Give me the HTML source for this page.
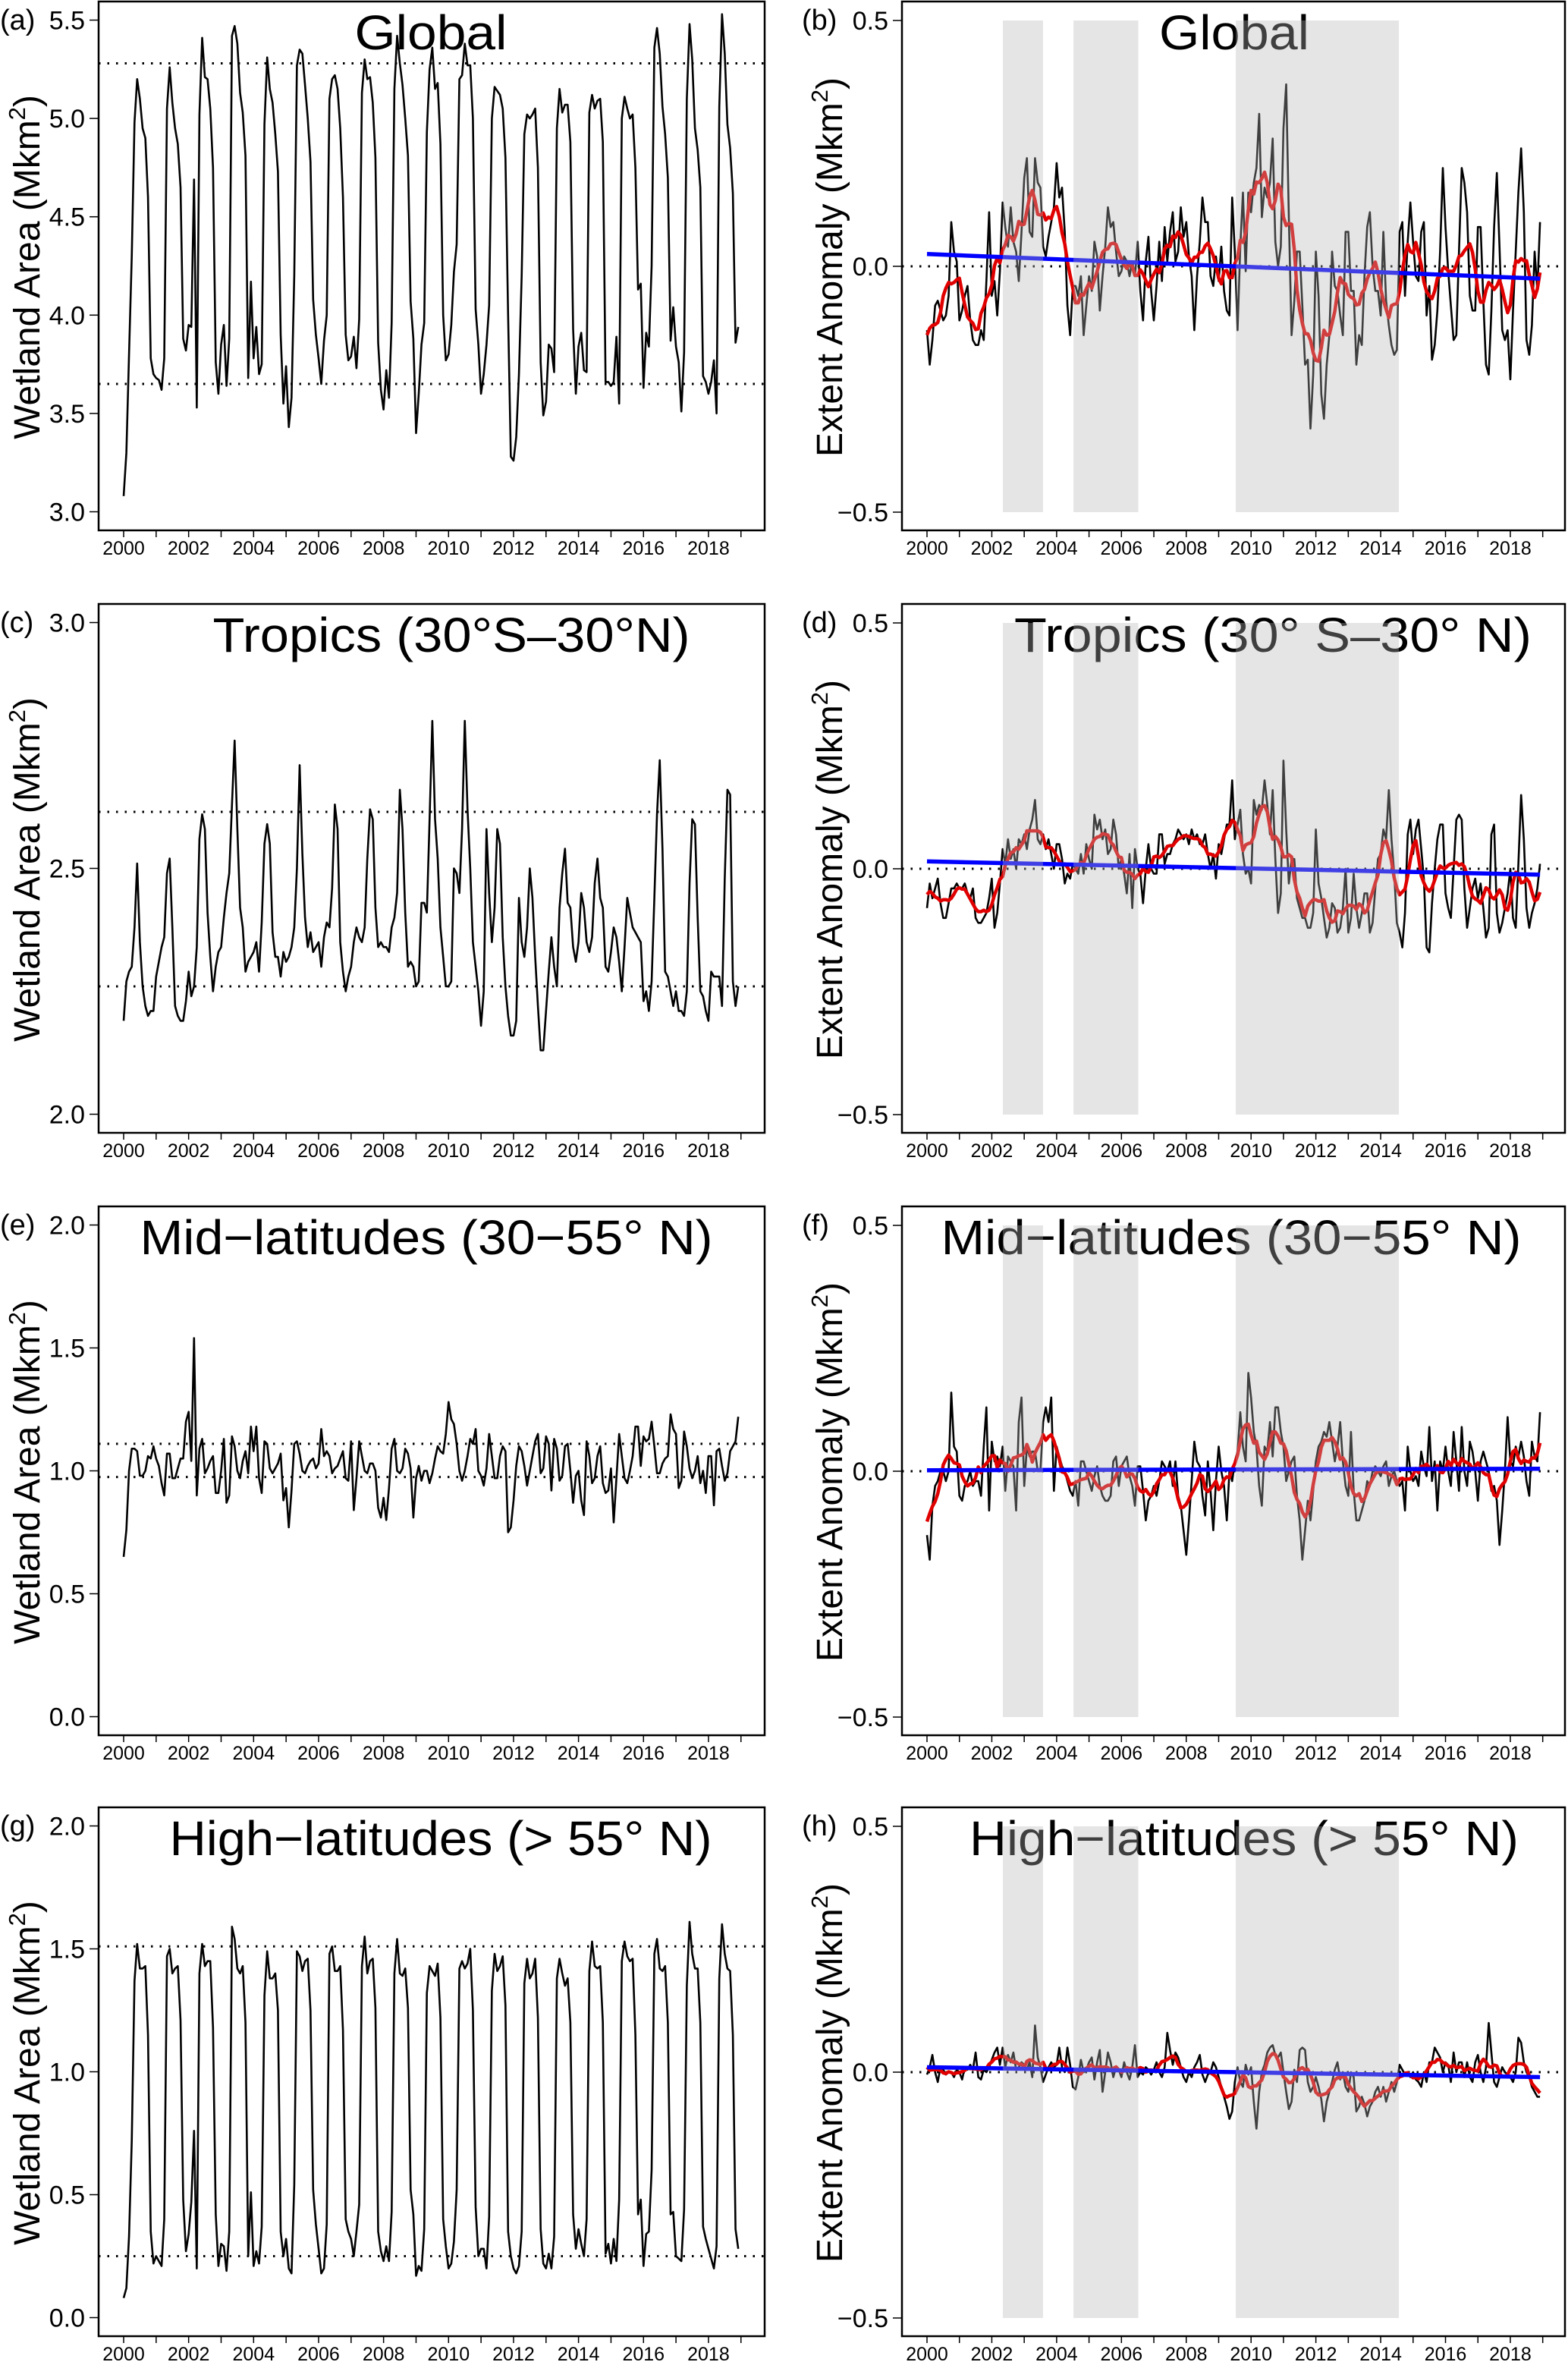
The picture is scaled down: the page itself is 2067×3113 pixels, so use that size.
<!DOCTYPE html>
<html>
<head>
<meta charset="utf-8">
<style>
html,body{margin:0;padding:0;background:#fff;}
svg{display:block;}
text{font-family:"Liberation Sans",Arial,sans-serif;fill:#000;}
</style>
</head>
<body>
<svg id="fig" width="2067" height="3113" viewBox="0 0 2067 3113" xmlns="http://www.w3.org/2000/svg"></svg>
<script>
// ---------- DATA (monthly, Jan 2000 .. Dec 2018) ----------
const startYear = 2000;
const yearTicks = [2000,2001,2002,2003,2004,2005,2006,2007,2008,2009,2010,2011,2012,2013,2014,2015,2016,2017,2018,2019];
const yearLabels = ["2000","2002","2004","2006","2008","2010","2012","2014","2016","2018"];
const shadedPeriods = [[2002.34,2003.58],[2004.52,2006.52],[2009.53,2014.56]];

const globalArea = [
3.08,3.30,3.80,4.30,4.98,5.20,5.10,4.95,4.90,4.60,3.78,3.70,
3.68,3.67,3.62,3.78,5.05,5.26,5.08,4.95,4.87,4.65,3.88,3.82,
3.95,3.94,4.69,3.53,5.02,5.41,5.21,5.20,5.05,4.75,3.76,3.60,
3.85,3.95,3.64,3.88,5.42,5.47,5.38,5.13,5.03,4.81,3.68,4.17,
3.78,3.94,3.70,3.75,4.97,5.31,5.15,5.08,4.92,4.73,3.90,3.55,
3.74,3.43,3.58,4.20,5.27,5.35,5.33,5.17,5.00,4.78,4.08,3.90,
3.78,3.65,3.87,4.00,5.10,5.20,5.22,5.15,4.95,4.60,3.90,3.77,
3.79,3.89,3.73,3.98,5.13,5.30,5.20,5.21,5.08,4.80,3.86,3.62,
3.52,3.72,3.58,3.96,5.15,5.42,5.28,5.17,5.00,4.81,4.07,3.88,
3.40,3.60,3.85,3.96,4.93,5.25,5.36,5.15,5.18,4.87,4.00,3.77,
3.80,3.95,4.22,4.36,5.20,5.22,5.38,5.27,5.27,5.00,4.03,3.85,
3.60,3.70,3.85,4.05,5.00,5.16,5.14,5.12,5.05,4.80,4.00,3.28,
3.26,3.38,3.70,4.20,4.92,5.02,5.00,5.02,5.05,4.75,3.76,3.49,
3.56,3.85,3.83,3.71,4.95,5.15,5.03,5.07,5.07,4.88,3.93,3.60,
3.84,3.91,3.72,3.71,5.03,5.12,5.05,5.09,5.10,4.88,3.66,3.66,
3.64,3.66,3.89,3.55,5.00,5.11,5.05,5.00,5.02,4.75,4.13,4.16,
3.63,3.91,3.84,4.25,5.36,5.46,5.33,5.06,4.92,4.70,3.87,4.04,
3.84,3.76,3.51,3.81,5.10,5.48,5.30,4.95,4.84,4.65,3.69,3.66,
3.60,3.66,3.77,3.50,5.06,5.53,5.33,4.97,4.85,4.62,3.86,3.94];
const globalRefLines = [5.28,3.65];

const tropicsArea = [
2.19,2.27,2.29,2.30,2.38,2.51,2.35,2.26,2.22,2.20,2.21,2.21,
2.28,2.31,2.34,2.36,2.49,2.52,2.38,2.22,2.20,2.19,2.19,2.23,
2.29,2.24,2.26,2.34,2.56,2.61,2.58,2.41,2.32,2.25,2.30,2.33,
2.34,2.40,2.45,2.49,2.63,2.76,2.58,2.42,2.38,2.29,2.31,2.32,
2.33,2.35,2.29,2.39,2.55,2.59,2.55,2.37,2.32,2.32,2.28,2.33,
2.31,2.32,2.34,2.38,2.50,2.71,2.53,2.40,2.34,2.37,2.33,2.34,
2.35,2.30,2.36,2.39,2.38,2.46,2.63,2.58,2.35,2.29,2.25,2.28,
2.30,2.35,2.38,2.36,2.35,2.38,2.52,2.62,2.60,2.42,2.34,2.35,
2.34,2.34,2.33,2.38,2.40,2.45,2.66,2.58,2.41,2.30,2.31,2.30,
2.26,2.27,2.43,2.43,2.41,2.60,2.80,2.60,2.52,2.38,2.32,2.26,
2.26,2.27,2.50,2.49,2.45,2.58,2.80,2.62,2.50,2.35,2.30,2.25,
2.18,2.25,2.58,2.45,2.35,2.42,2.58,2.55,2.36,2.26,2.20,2.16,
2.16,2.19,2.44,2.35,2.32,2.38,2.50,2.44,2.32,2.22,2.13,2.13,
2.21,2.29,2.36,2.30,2.26,2.42,2.49,2.54,2.43,2.42,2.34,2.31,
2.35,2.45,2.42,2.35,2.33,2.36,2.47,2.52,2.44,2.42,2.30,2.29,
2.33,2.38,2.36,2.31,2.25,2.34,2.44,2.41,2.38,2.37,2.36,2.35,
2.23,2.25,2.21,2.27,2.44,2.61,2.72,2.54,2.29,2.28,2.25,2.22,
2.25,2.21,2.21,2.20,2.25,2.47,2.60,2.59,2.40,2.25,2.24,2.21,
2.19,2.29,2.28,2.28,2.28,2.22,2.48,2.66,2.65,2.27,2.22,2.26];
const tropicsRefLines = [2.615,2.26];

const midArea = [
0.65,0.76,1.00,1.09,1.09,1.08,0.98,0.98,1.00,1.06,1.05,1.10,
1.05,1.02,0.95,0.90,1.07,1.07,0.97,0.97,1.01,1.05,1.05,1.20,
1.24,1.04,1.54,0.90,1.09,1.13,0.99,1.01,1.04,1.06,0.91,0.91,
1.00,1.13,0.87,0.90,1.14,1.10,1.00,0.97,1.04,1.08,0.99,1.18,
1.08,1.18,0.97,0.91,1.12,1.11,1.01,0.99,1.01,1.03,1.07,0.88,
0.93,0.77,0.92,1.11,1.12,1.07,1.00,0.99,1.02,1.04,1.05,1.01,
1.03,1.17,1.06,1.08,1.06,0.99,1.01,1.02,1.05,1.08,0.97,0.96,
1.12,0.84,0.97,1.12,1.06,1.00,0.99,1.03,1.03,1.00,0.85,0.81,
0.89,0.80,0.93,1.09,1.13,1.00,0.99,1.01,1.09,1.07,1.01,0.81,
0.97,1.02,0.96,1.00,1.00,0.95,0.99,1.05,1.10,1.08,1.07,1.15,
1.28,1.21,1.19,1.11,1.00,0.96,1.00,1.06,1.13,1.11,1.17,1.00,
0.98,0.94,1.01,1.15,1.06,0.97,0.97,1.06,1.10,1.08,0.75,0.77,
0.88,1.02,1.10,1.08,1.02,0.94,1.00,1.06,1.12,1.15,0.99,1.01,
1.14,1.11,0.92,1.13,1.09,0.96,0.98,1.10,1.11,1.00,0.87,0.98,
1.00,0.88,0.82,1.12,1.06,0.95,0.97,1.06,1.10,0.95,0.91,0.92,
1.01,0.79,0.97,1.15,1.06,0.97,0.95,1.00,1.06,1.18,1.18,1.02,
1.14,1.12,1.13,1.20,1.10,0.99,0.99,1.03,1.05,1.06,1.23,1.17,
1.15,0.93,0.96,1.16,1.10,1.01,0.97,1.00,1.06,0.95,1.00,0.91,
1.06,1.06,0.86,1.08,1.09,1.02,0.96,0.99,1.08,1.10,1.12,1.22];
const midRefLines = [1.11,0.975];

const highArea = [
0.08,0.12,0.33,0.72,1.37,1.52,1.42,1.42,1.43,1.15,0.35,0.22,
0.25,0.23,0.21,0.40,1.47,1.50,1.40,1.42,1.43,1.21,0.48,0.27,
0.34,0.47,0.76,0.20,1.40,1.52,1.43,1.45,1.45,1.18,0.42,0.21,
0.30,0.29,0.19,0.35,1.59,1.54,1.42,1.40,1.43,1.20,0.25,0.51,
0.21,0.27,0.22,0.37,1.31,1.49,1.38,1.38,1.40,1.25,0.35,0.25,
0.32,0.20,0.18,0.54,1.49,1.47,1.41,1.45,1.46,1.25,0.52,0.38,
0.28,0.18,0.20,0.38,1.48,1.51,1.41,1.41,1.43,1.17,0.40,0.35,
0.32,0.25,0.35,0.46,1.43,1.55,1.40,1.45,1.46,1.26,0.35,0.27,
0.23,0.29,0.23,0.43,1.40,1.54,1.40,1.39,1.42,1.26,0.52,0.42,
0.17,0.21,0.19,0.36,1.32,1.43,1.41,1.39,1.44,1.22,0.40,0.29,
0.20,0.22,0.31,0.52,1.42,1.45,1.42,1.44,1.50,1.25,0.45,0.25,
0.28,0.28,0.20,0.41,1.33,1.48,1.41,1.43,1.47,1.27,0.35,0.25,
0.20,0.18,0.21,0.35,1.36,1.46,1.38,1.40,1.46,1.22,0.36,0.22,
0.20,0.26,0.20,0.33,1.38,1.46,1.40,1.35,1.38,1.20,0.42,0.28,
0.36,0.30,0.25,0.40,1.41,1.53,1.43,1.42,1.43,1.20,0.26,0.30,
0.22,0.32,0.23,0.48,1.45,1.53,1.47,1.45,1.46,1.15,0.42,0.48,
0.21,0.34,0.35,0.60,1.48,1.54,1.42,1.41,1.43,1.20,0.42,0.43,
0.25,0.24,0.23,0.44,1.35,1.61,1.48,1.42,1.42,1.20,0.37,0.32,
0.28,0.24,0.20,0.29,1.38,1.60,1.48,1.42,1.41,1.15,0.36,0.28];
const highRefLines = [1.51,0.25];

const globalAnom = [
-0.13,-0.20,-0.15,-0.08,-0.07,-0.09,-0.11,-0.10,-0.06,0.09,0.03,0.01,
-0.11,-0.09,-0.06,-0.04,-0.11,-0.15,-0.16,-0.16,-0.13,-0.15,-0.03,0.11,
-0.06,-0.03,-0.10,-0.01,0.13,0.08,0.04,0.12,0.05,0.03,-0.03,0.07,
0.18,0.22,0.07,0.06,0.22,0.17,0.16,0.04,0.02,0.06,0.09,0.12,
0.21,0.14,0.16,0.07,-0.08,-0.14,-0.04,-0.04,-0.06,-0.02,-0.14,-0.08,
-0.02,-0.05,0.05,0.02,-0.09,-0.02,0.04,0.12,0.08,0.09,0.03,-0.02,
-0.01,0.02,0.01,-0.02,0.01,-0.02,0.05,-0.05,-0.11,0.01,0.06,-0.05,
-0.11,-0.04,0.05,-0.03,0.08,0.01,0.07,0.11,0.01,0.03,0.12,0.06,
0.09,0.02,-0.02,-0.13,-0.02,0.05,0.14,0.09,0.09,-0.02,-0.04,0.02,
-0.03,0.04,-0.05,-0.09,-0.10,0.14,0.03,-0.13,0.04,0.15,-0.01,0.15,
0.11,0.17,0.20,0.31,0.10,0.16,0.14,0.17,0.26,0.05,0.00,0.04,
0.28,0.37,0.10,-0.14,-0.07,0.03,0.03,-0.08,-0.20,-0.19,-0.33,-0.22,
0.03,-0.06,-0.26,-0.31,-0.20,-0.14,0.03,-0.04,-0.05,-0.10,-0.14,0.07,
0.07,-0.05,-0.05,-0.20,-0.14,-0.16,-0.02,0.08,0.11,0.00,-0.05,-0.05,
-0.10,0.07,-0.07,-0.12,-0.16,-0.18,-0.17,0.07,0.09,-0.06,0.05,0.13,
0.05,-0.02,-0.03,0.07,0.09,-0.10,-0.04,-0.19,-0.16,-0.09,0.03,0.20,
0.08,-0.01,-0.08,-0.15,-0.14,0.03,0.20,0.17,0.11,-0.06,-0.09,-0.09,
0.08,0.08,-0.07,-0.20,-0.22,-0.09,0.08,0.19,0.04,-0.13,-0.15,-0.13,
-0.23,-0.09,0.03,0.15,0.24,0.11,-0.15,-0.18,-0.12,0.03,-0.05,0.09];
const globalTrend = [0.025,-0.025];

const tropicsAnom = [
-0.08,-0.03,-0.06,-0.04,-0.02,-0.07,-0.10,-0.10,-0.07,-0.04,-0.04,-0.03,
-0.04,-0.04,-0.03,-0.05,-0.06,-0.04,-0.10,-0.11,-0.11,-0.10,-0.09,-0.06,
-0.02,-0.12,-0.09,-0.03,0.04,0.01,0.06,0.02,0.04,0.00,0.06,0.05,
0.07,0.04,0.08,0.10,0.14,0.06,0.05,0.07,0.04,0.06,0.03,0.00,
0.05,0.05,0.02,-0.03,-0.01,-0.02,0.01,0.00,-0.01,0.03,-0.01,0.05,
0.02,0.00,0.11,0.08,0.10,0.06,0.08,0.03,0.04,0.10,0.07,0.00,
0.02,-0.01,-0.05,0.03,-0.08,0.04,0.00,-0.01,-0.07,0.00,0.05,0.00,
-0.01,-0.01,0.07,0.07,0.01,0.03,0.03,0.05,0.06,0.08,0.07,0.06,
0.07,0.05,0.08,0.06,0.07,0.05,0.05,0.07,0.03,0.00,0.03,-0.02,
0.05,0.03,0.06,0.09,0.09,0.18,0.06,0.09,0.12,0.03,-0.01,0.00,
-0.03,0.14,0.11,0.13,0.12,0.18,0.13,0.07,0.16,0.02,-0.09,-0.05,
0.22,0.08,-0.03,0.02,0.02,-0.06,-0.08,-0.10,-0.10,-0.12,-0.12,-0.09,
0.08,-0.03,-0.06,-0.10,-0.14,-0.12,-0.07,-0.08,-0.13,-0.12,-0.08,0.00,
-0.13,-0.10,-0.01,-0.08,-0.12,-0.09,-0.05,-0.05,-0.13,-0.11,-0.04,0.02,
0.03,0.08,0.06,0.16,0.06,-0.01,-0.11,-0.13,-0.16,-0.09,0.07,0.10,
0.03,0.08,0.10,0.04,-0.02,-0.16,-0.17,-0.07,0.00,0.06,0.09,0.09,
-0.05,-0.08,-0.10,0.00,0.10,0.11,0.10,-0.04,-0.12,-0.08,-0.04,-0.02,
-0.06,-0.03,-0.08,-0.14,-0.12,0.07,0.09,-0.09,-0.13,-0.11,-0.08,-0.05,
0.00,-0.10,-0.12,0.01,0.15,0.06,-0.08,-0.12,-0.09,-0.07,-0.04,0.01];
const tropicsTrend = [0.015,-0.012];

const midAnom = [
-0.13,-0.18,-0.07,-0.03,-0.02,0.00,0.00,-0.02,0.00,0.16,0.05,0.04,
-0.05,-0.06,-0.03,-0.02,0.00,-0.03,-0.02,-0.02,-0.05,0.05,0.13,-0.08,
0.06,0.02,0.03,0.01,0.05,-0.04,0.03,0.02,0.01,-0.08,0.10,0.15,
-0.03,0.05,0.03,0.04,0.04,0.00,0.00,0.10,0.13,0.10,0.15,-0.04,
0.05,0.03,0.01,0.00,-0.02,-0.04,-0.05,-0.02,-0.07,0.02,0.02,0.00,
-0.02,-0.04,-0.01,0.01,-0.03,-0.05,-0.06,-0.06,-0.05,0.02,0.03,-0.03,
0.01,0.02,0.03,-0.01,-0.03,-0.07,0.01,0.01,-0.04,-0.10,-0.06,-0.05,
-0.03,-0.05,-0.02,0.02,0.01,0.00,0.02,-0.03,0.02,-0.05,-0.07,-0.12,
-0.17,-0.10,-0.02,0.06,0.02,0.01,-0.05,-0.09,0.02,-0.04,-0.12,-0.02,
0.05,0.00,-0.03,-0.10,0.00,-0.02,0.02,0.04,0.12,0.05,0.02,0.20,
0.15,0.08,0.05,-0.03,-0.07,0.05,0.04,0.10,0.03,0.13,0.13,0.08,
0.05,-0.02,0.00,0.02,0.03,-0.05,-0.10,-0.18,-0.12,-0.06,-0.10,-0.04,
0.02,0.05,0.06,0.08,0.07,0.10,0.06,0.02,0.05,0.10,0.02,-0.03,
-0.05,0.08,-0.04,-0.10,-0.10,-0.08,-0.06,-0.02,-0.03,0.00,0.01,0.00,
-0.01,0.01,0.02,-0.03,-0.01,0.00,-0.02,-0.03,-0.02,-0.08,0.05,0.00,
-0.02,-0.01,-0.03,0.04,0.01,-0.01,0.09,-0.02,0.02,-0.08,0.02,0.00,
0.05,0.00,-0.03,0.08,0.02,-0.04,0.09,0.00,-0.03,0.06,0.04,0.00,
-0.06,0.02,0.04,0.02,0.00,-0.04,-0.03,-0.06,-0.15,-0.08,0.00,0.11,
0.02,0.01,0.05,0.03,0.06,0.03,-0.02,-0.05,0.06,0.03,0.02,0.12];
const midTrend = [0.002,0.005];

const highAnom = [
-0.005,0.01,0.035,0.0,-0.02,0.01,0.005,-0.005,0.0,0.0,-0.01,0.005,
0.0,-0.015,0.01,0.005,0.015,0.005,0.04,-0.01,-0.015,0.005,0.0,0.01,
0.025,0.04,0.05,0.015,0.05,0.01,0.035,0.02,0.04,0.005,0.01,0.02,
0.015,0.005,0.02,-0.01,0.095,0.03,0.01,-0.02,-0.005,0.01,0.02,0.01,
0.015,0.05,0.01,0.0,0.05,0.015,-0.03,-0.035,-0.01,0.025,0.0,0.005,
0.02,0.03,-0.015,0.02,0.045,-0.04,0.0,0.04,0.02,-0.01,0.01,0.005,
-0.01,0.02,0.0,-0.015,0.01,0.055,-0.01,0.0,-0.005,0.01,0.005,-0.005,
0.005,0.02,0.0,-0.01,0.01,0.08,0.045,0.015,0.04,0.03,0.01,-0.01,
-0.02,0.0,-0.01,0.01,0.02,0.035,-0.005,-0.02,-0.005,0.0,0.02,0.01,
-0.01,-0.03,-0.05,-0.07,-0.095,-0.08,-0.02,0.01,-0.02,-0.03,0.015,-0.005,
0.01,-0.06,-0.115,-0.04,0.0,0.015,0.04,0.05,0.055,0.035,0.03,0.04,
0.0,-0.04,-0.075,-0.06,0.005,-0.02,0.045,0.05,0.045,-0.02,-0.04,-0.03,
-0.01,-0.03,-0.055,-0.1,-0.06,-0.04,-0.02,0.005,0.02,-0.015,0.0,-0.03,
-0.04,0.0,-0.01,-0.08,-0.07,-0.05,-0.065,-0.09,-0.07,-0.06,-0.04,-0.03,
-0.05,-0.03,-0.06,-0.04,-0.02,-0.04,-0.02,0.015,0.005,-0.005,0.0,-0.01,
0.0,-0.015,-0.02,-0.03,0.0,-0.02,0.02,0.02,0.05,0.04,0.03,0.0,
0.02,0.015,-0.02,0.04,0.0,0.02,0.02,-0.01,0.02,-0.01,-0.02,0.02,
0.035,0.0,-0.02,0.01,0.1,0.04,-0.02,-0.03,-0.01,0.01,0.0,-0.005,
-0.01,-0.02,0.0,0.07,0.06,0.02,0.0,-0.01,-0.03,-0.04,-0.05,-0.05];
const highTrend = [0.01,-0.01];

const areaTicksGlobal = [3.0,3.5,4.0,4.5,5.0,5.5];
const areaTicksTropics = [2.0,2.5,3.0];
const areaTicksLat = [0.0,0.5,1.0,1.5,2.0];
const anomTicks = [-0.5,0.0,0.5];

// ---------- DRAWING ----------
const NS = "http://www.w3.org/2000/svg";
const svg = document.getElementById('fig');
function mk(tag, attrs, parent){
  const e = document.createElementNS(NS, tag);
  for (const k in attrs) e.setAttribute(k, attrs[k]);
  (parent||svg).appendChild(e);
  return e;
}
function fmt(v){ const s = Math.abs(v).toFixed(1); return v < 0 ? "\u2212" + s : s; }
function smooth(arr, w){
  const h = Math.floor(w/2), out = [];
  for (let i=0;i<arr.length;i++){
    let s=0,n=0;
    for (let j=i-h;j<=i+h;j++){ if (j>=0 && j<arr.length){ s+=arr[j]; n++; } }
    out.push(s/n);
  }
  return out;
}

function drawPanel(p){
  const g = mk('g', {});
  
  
  const off = p.off;
  const xs = yr => p.x2000 + (yr - startYear) * p.pxYr;
  const ys = v => off + p.yTopPx + (p.yMax - v) / (p.yMax - p.yMin) * (p.yBotPx - p.yTopPx);
  const boxT = off + 2, boxB = off + 699;

  const box = mk('rect', {x:p.boxL, y:boxT, width:p.boxR-p.boxL, height:boxB-boxT, fill:'none', stroke:'#000', 'stroke-width':2.5}, g);
  
  

  const xa = mk('g', {}, g);
  
  
  yearTicks.forEach(yr => {
    mk('line', {x1:xs(yr), x2:xs(yr), y1:boxB, y2:boxB+9, stroke:'#000', 'stroke-width':1.5}, xa);
  });
  yearLabels.forEach(l => {
    const t = mk('text', {x:xs(+l), y:boxB+32, 'font-size':25, 'text-anchor':'middle'}, xa);
    t.textContent = l;
    
    
  });

  const ya = mk('g', {}, g);
  
  
  p.ticks.forEach(v => {
    mk('line', {x1:p.boxL-12, x2:p.boxL, y1:ys(v), y2:ys(v), stroke:'#000', 'stroke-width':1.5}, ya);
    const t = mk('text', {x:p.boxL-18, y:ys(v)+12, 'font-size':34, 'text-anchor':'end'}, ya);
    t.textContent = fmt(v);
    
    
  });

  const cy = off + 352;
  const yl = mk('text', {x:0, y:0, 'font-size':48, 'text-anchor':'middle', transform:`translate(${p.ylabX},${cy}) rotate(-90)`}, g);
  
  
  yl.appendChild(document.createTextNode(p.anom ? 'Extent Anomaly (Mkm' : 'Wetland Area (Mkm'));
  const sup = mk('tspan', {'font-size':31, dy:-19}, yl); sup.textContent = '2';
  const cl = mk('tspan', {'font-size':48, dy:19}, yl); cl.textContent = ')';

  const pl = mk('text', {x:p.letterX, y:off+39, 'font-size':38}, g);
  pl.textContent = p.letter;
  
  

  if (p.refs){
    p.refs.forEach(v => {
      const l = mk('line', {x1:p.boxL, x2:p.boxR, y1:ys(v), y2:ys(v), stroke:'#000', 'stroke-width':3, 'stroke-dasharray':'2.5 9'}, g);
      
      
    });
  } else {
    const l = mk('line', {x1:p.boxL, x2:p.boxR, y1:ys(0), y2:ys(0), stroke:'#000', 'stroke-width':3, 'stroke-dasharray':'2.5 9'}, g);
    
    
  }

  const pts = p.data.map((v,i) => xs(startYear + i/12).toFixed(1) + ',' + ys(v).toFixed(1)).join(' ');
  const pl1 = mk('polyline', {points:pts, fill:'none', stroke:'#000', 'stroke-width':2.6, 'stroke-linejoin':'round'}, g);
  
  

  if (p.anom){
    const sm = smooth(p.data, 7);
    const pts2 = sm.map((v,i) => xs(startYear + i/12).toFixed(1) + ',' + ys(v).toFixed(1)).join(' ');
    const pl2 = mk('polyline', {points:pts2, fill:'none', stroke:'#e00000', 'stroke-width':4.5, 'stroke-linejoin':'round'}, g);
    
    
    const tEnd = startYear + (p.data.length-1)/12;
    const tl = mk('line', {x1:xs(startYear), y1:ys(p.trend[0]), x2:xs(tEnd), y2:ys(p.trend[1]), stroke:'#0000ff', 'stroke-width':5.5}, g);
    
    
  }

  const tt = mk('text', {x:p.titleX, y:off+65, 'font-size':64, 'text-anchor':'middle', textLength:p.titleW, lengthAdjust:'spacingAndGlyphs'}, g);
  tt.textContent = p.title;
  
  

  if (p.anom){
    shadedPeriods.forEach(sp => {
      const r = mk('rect', {x:xs(sp[0]), y:ys(0.5), width:xs(sp[1])-xs(sp[0]), height:ys(-0.5)-ys(0.5), fill:'rgb(180,180,180)', 'fill-opacity':0.35}, g);
      
      
    });
  }
}

const L = {boxL:130, boxR:1008, x2000:163, pxYr:42.83, yTopPx:26.5, yBotPx:674.5, ylabX:52, letterX:0, anom:false};
const R = {boxL:1189, boxR:2063, x2000:1222, pxYr:42.72, yTopPx:27, yBotPx:675, ylabX:1110, letterX:1057, anom:true};
const offs = [0,794,1588,2380];

drawPanel(Object.assign({}, L, {name:'panel-a-global-area', off:offs[0], data:globalArea, refs:globalRefLines, ticks:areaTicksGlobal, yMin:3.0, yMax:5.5, letter:'(a)', title:'Global', titleX:568, titleW:201}));
drawPanel(Object.assign({}, R, {name:'panel-b-global-anomaly', off:offs[0], data:globalAnom, trend:globalTrend, ticks:anomTicks, yMin:-0.5, yMax:0.5, letter:'(b)', title:'Global', titleX:1627, titleW:198}));
drawPanel(Object.assign({}, L, {name:'panel-c-tropics-area', off:offs[1], data:tropicsArea, refs:tropicsRefLines, ticks:areaTicksTropics, yMin:2.0, yMax:3.0, letter:'(c)', title:'Tropics (30°S\u201330°N)', titleX:595, titleW:629}));
drawPanel(Object.assign({}, R, {name:'panel-d-tropics-anomaly', off:offs[1], data:tropicsAnom, trend:tropicsTrend, ticks:anomTicks, yMin:-0.5, yMax:0.5, letter:'(d)', title:'Tropics (30° S\u201330° N)', titleX:1678, titleW:682}));
drawPanel(Object.assign({}, L, {name:'panel-e-midlat-area', off:offs[2], data:midArea, refs:midRefLines, ticks:areaTicksLat, yMin:0.0, yMax:2.0, letter:'(e)', title:'Mid\u2212latitudes (30\u221255° N)', titleX:562, titleW:755}));
drawPanel(Object.assign({}, R, {name:'panel-f-midlat-anomaly', off:offs[2], data:midAnom, trend:midTrend, ticks:anomTicks, yMin:-0.5, yMax:0.5, letter:'(f)', title:'Mid\u2212latitudes (30\u221255° N)', titleX:1623, titleW:765}));
drawPanel(Object.assign({}, L, {name:'panel-g-highlat-area', off:offs[3], data:highArea, refs:highRefLines, ticks:areaTicksLat, yMin:0.0, yMax:2.0, letter:'(g)', title:'High\u2212latitudes (> 55° N)', titleX:581, titleW:715}));
drawPanel(Object.assign({}, R, {name:'panel-h-highlat-anomaly', off:offs[3], data:highAnom, trend:highTrend, ticks:anomTicks, yMin:-0.5, yMax:0.5, letter:'(h)', title:'High\u2212latitudes (> 55° N)', titleX:1640, titleW:724}));
</script>
</body>
</html>
